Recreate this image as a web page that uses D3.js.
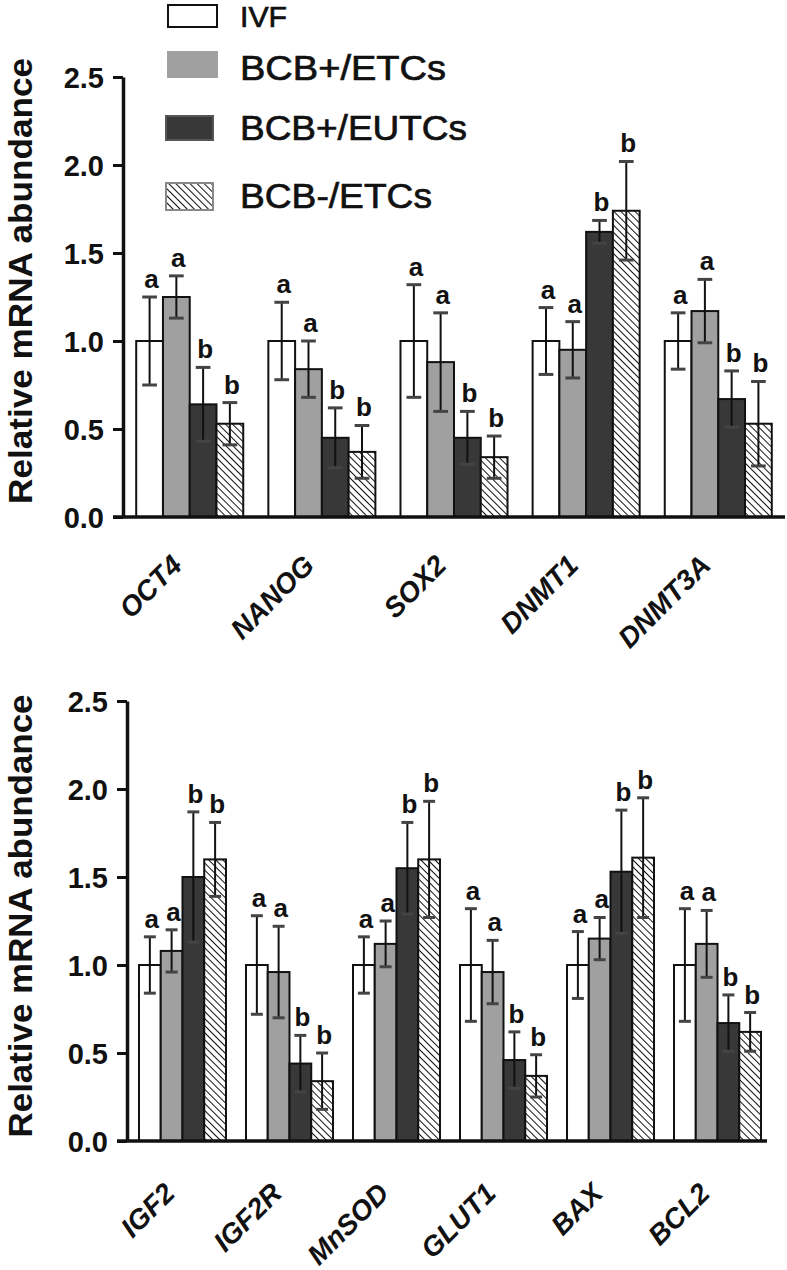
<!DOCTYPE html>
<html><head><meta charset="utf-8">
<script src="https://cdn.jsdelivr.net/npm/d3@7"></script>
<style>body{margin:0;background:#fff}svg{display:block}</style>
</head><body>
<svg id="chart" width="787" height="1270"></svg>
<script>
// ---- data ----
const seriesNames = ["IVF", "BCB+/ETCs", "BCB+/EUTCs", "BCB-/ETCs"];

const topGenes = ["OCT4", "NANOG", "SOX2", "DNMT1", "DNMT3A"];
const topIVF      = [1.00, 1.00, 1.00, 1.00, 1.00];
const topETC      = [1.25, 0.84, 0.88, 0.95, 1.17];
const topEUTC     = [0.64, 0.45, 0.45, 1.62, 0.67];
const topNegETC   = [0.53, 0.37, 0.34, 1.74, 0.53];
const topIVFErr    = [0.25, 0.22, 0.32, 0.19, 0.16];
const topETCErr    = [0.12, 0.16, 0.28, 0.16, 0.18];
const topEUTCErr   = [0.21, 0.17, 0.15, 0.065, 0.16];
const topNegETCErr = [0.12, 0.15, 0.12, 0.28, 0.24];
const topLetters = [["a","a","a","a","a"],["a","a","a","a","a"],["b","b","b","b","b"],["b","b","b","b","b"]];

const botGenes = ["IGF2", "IGF2R", "MnSOD", "GLUT1", "BAX", "BCL2"];
const botIVF      = [1.00, 1.00, 1.00, 1.00, 1.00, 1.00];
const botETC      = [1.08, 0.96, 1.12, 0.96, 1.15, 1.12];
const botEUTC     = [1.50, 0.44, 1.55, 0.46, 1.53, 0.67];
const botNegETC   = [1.60, 0.34, 1.60, 0.37, 1.61, 0.62];
const botIVFErr    = [0.16, 0.28, 0.16, 0.32, 0.19, 0.32];
const botETCErr    = [0.12, 0.26, 0.13, 0.18, 0.12, 0.19];
const botEUTCErr   = [0.37, 0.16, 0.26, 0.16, 0.35, 0.16];
const botNegETCErr = [0.21, 0.16, 0.33, 0.12, 0.34, 0.11];
const botLetters = [["a","a","a","a","a","a"],["a","a","a","a","a","a"],["b","b","b","b","b","b"],["b","b","b","b","b","b"]];

const yTicks = [0, 0.5, 1.0, 1.5, 2.0, 2.5];
const yTitle = "Relative mRNA abundance";

// ---- styles ----
const FONT = "'Liberation Sans', Arial, Helvetica, sans-serif";
const fills = ["#ffffff", "#a0a0a0", "#383838", "url(#hatch)"];
const legendStroke = ["#111", "#a0a0a0", "#555", "#888"];

const svg = d3.select("#chart");
const defs = svg.append("defs");
const pat = defs.append("pattern").attr("id", "hatch").attr("patternUnits", "userSpaceOnUse")
  .attr("width", 5).attr("height", 5).attr("patternTransform", "rotate(45)");
pat.append("rect").attr("width", 5).attr("height", 5).attr("fill", "#fff");
pat.append("line").attr("x1", 0).attr("y1", 0).attr("x2", 5).attr("y2", 0)
  .attr("stroke", "#111").attr("stroke-width", 2);

function panel(cfg) {
  const { genes, means, errs, letters, xRange, yRange, padOuter, baseLeft, baseRight, titleCenter, titleLen, labelDy } = cfg;
  const g = svg.append("g");
  const x0 = d3.scaleBand().domain(genes).range(xRange).paddingInner(cfg.padInner).paddingOuter(padOuter);
  const x1 = d3.scaleBand().domain(d3.range(4)).range([0, x0.bandwidth()]);
  const y = d3.scaleLinear().domain([0, 2.5]).range(yRange);

  const data = [];
  genes.forEach((gene, gi) => {
    for (let s = 0; s < 4; s++) data.push({ gene, s, v: means[s][gi], e: errs[s][gi], l: letters[s][gi] });
  });
  const bw = x1.bandwidth();
  const cx = d => x0(d.gene) + x1(d.s) + bw / 2;

  g.selectAll("rect.bar").data(data).join("rect").attr("class", "bar")
    .attr("x", d => x0(d.gene) + x1(d.s)).attr("y", d => y(d.v))
    .attr("width", bw).attr("height", d => y(0) - y(d.v))
    .attr("fill", d => fills[d.s]).attr("stroke", "#111").attr("stroke-width", 2);

  // error bars
  const cap = bw * 0.55;
  const eg = g.selectAll("g.err").data(data).join("g").attr("class", "err");
  eg.append("line").attr("x1", cx).attr("x2", cx)
    .attr("y1", d => y(d.v + d.e)).attr("y2", d => y(d.v - d.e)).attr("stroke", "#111").attr("stroke-width", 2);
  ["top", "bot"].forEach(k => {
    eg.append("line")
      .attr("x1", d => cx(d) - cap / 2).attr("x2", d => cx(d) + cap / 2)
      .attr("y1", d => y(k === "top" ? d.v + d.e : d.v - d.e)).attr("y2", d => y(k === "top" ? d.v + d.e : d.v - d.e))
      .attr("stroke", "#444").attr("stroke-width", 3);
  });

  // letters
  g.selectAll("text.sig").data(data).join("text").attr("class", "sig")
    .attr("x", d => cx(d) + 2).attr("y", d => y(d.v + d.e) - 9)
    .attr("text-anchor", "middle").attr("font-family", FONT).attr("font-weight", "bold")
    .attr("font-size", 26).attr("fill", "#111").text(d => d.l);

  // y axis
  const yAxis = d3.axisLeft(y).tickValues(yTicks).tickFormat(d3.format(".1f")).tickSize(10).tickSizeOuter(0).tickPadding(9);
  const ya = g.append("g").attr("transform", `translate(${xRange[0]},0)`).call(yAxis);
  ya.select(".domain").attr("stroke", "#111").attr("stroke-width", 3.5);
  ya.selectAll(".tick line").attr("stroke", "#111").attr("stroke-width", 3);
  ya.selectAll(".tick text").attr("font-family", FONT).attr("font-weight", "bold").attr("font-size", 29)
    .attr("fill", "#111").attr("dy", "0.36em");

  // baseline
  g.append("line").attr("x1", baseLeft).attr("x2", baseRight).attr("y1", y(0)).attr("y2", y(0))
    .attr("stroke", "#111").attr("stroke-width", 3.5);

  // x labels
  g.selectAll("text.xl").data(genes).join("text").attr("class", "xl")
    .attr("transform", d => `translate(${x0(d) + x0.bandwidth() / 2 - 6},${y(0) + labelDy}) rotate(-45)`)
    .attr("text-anchor", "end").attr("font-family", FONT).attr("font-weight", "bold").attr("font-style", "italic")
    .attr("font-size", 28).attr("fill", "#111").text(d => d);

  // y title
  g.append("text").attr("transform", `translate(32,${titleCenter}) rotate(-90)`)
    .attr("text-anchor", "middle").attr("font-family", FONT).attr("font-weight", "bold").attr("font-size", 34)
    .attr("textLength", titleLen).attr("lengthAdjust", "spacingAndGlyphs")
    .attr("fill", "#111").text(yTitle);
}

panel({
  genes: topGenes,
  means: [topIVF, topETC, topEUTC, topNegETC],
  errs: [topIVFErr, topETCErr, topEUTCErr, topNegETCErr],
  letters: topLetters,
  xRange: [123, 785], yRange: [517, 77], padInner: 0.19, padOuter: 0.1,
  baseLeft: 113, baseRight: 785, titleCenter: 281, titleLen: 446, labelDy: 50
});
panel({
  genes: botGenes,
  means: [botIVF, botETC, botEUTC, botNegETC],
  errs: [botIVFErr, botETCErr, botEUTCErr, botNegETCErr],
  letters: botLetters,
  xRange: [127, 773], yRange: [1141, 701], padInner: 0.187, padOuter: 0.112,
  baseLeft: 117, baseRight: 767, titleCenter: 916, titleLen: 443, labelDy: 54
});

// legend
const legendRows = [
  { box: [168, 5, 49, 22], tx: 240, ty: 27, size: 30, len: 47 },
  { box: [168, 52, 49, 25], tx: 240, ty: 80, size: 35, len: 206 },
  { box: [166, 116, 47, 24], tx: 240, ty: 140, size: 35, len: 227 },
  { box: [166, 183, 47, 27], tx: 240, ty: 208, size: 35, len: 192 }
];
const lg = svg.append("g");
seriesNames.forEach((name, i) => {
  const r = legendRows[i];
  lg.append("rect").attr("x", r.box[0]).attr("y", r.box[1]).attr("width", r.box[2]).attr("height", r.box[3])
    .attr("fill", fills[i]).attr("stroke", legendStroke[i]).attr("stroke-width", 2);
  lg.append("text").attr("x", r.tx).attr("y", r.ty).attr("font-family", FONT).attr("font-size", r.size)
    .attr("textLength", r.len).attr("lengthAdjust", "spacingAndGlyphs")
    .attr("fill", "#111").attr("stroke", "#111").attr("stroke-width", 0.7).text(name);
});
</script>
</body></html>
